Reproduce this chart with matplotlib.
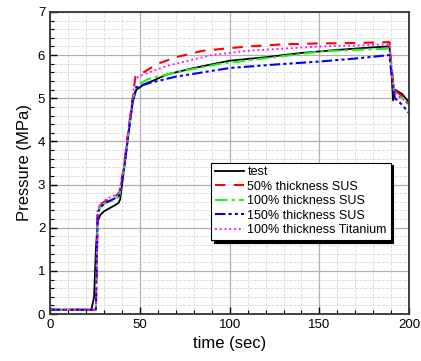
import numpy as np
import matplotlib.pyplot as plt
from matplotlib.ticker import MultipleLocator

# Data
t_test = [0, 23, 24.5, 25.5, 26.5, 28, 30, 33, 36, 38, 39, 41, 44, 46, 48, 50, 52, 57, 65, 80, 100, 120, 140, 160, 180, 189, 190, 191, 192, 196, 200]
p_test = [0.1, 0.1, 0.4, 1.5, 2.15, 2.3, 2.38, 2.45, 2.52, 2.57, 2.65, 3.3, 4.3, 4.9, 5.2, 5.25, 5.32, 5.4, 5.55, 5.7, 5.87, 5.95, 6.05, 6.12, 6.18, 6.2, 5.7, 4.95, 5.2, 5.1, 4.9]

t_sus50 = [0, 25.5, 26, 26.5, 28, 30, 33, 36, 38.5, 41, 44, 46, 47.5, 52, 60, 70, 85, 110, 130, 150, 170, 189, 190, 191.5, 196, 200]
p_sus50 = [0.1, 0.1, 1.2, 2.4, 2.52, 2.6, 2.66, 2.72, 2.8, 3.4, 4.4, 5.0, 5.5, 5.6, 5.8, 5.95, 6.1, 6.2, 6.25, 6.27, 6.28, 6.3, 5.8, 5.2, 5.05, 4.9]

t_sus100 = [0, 25.5, 26, 26.5, 28, 30, 33, 36, 38.5, 41, 44, 46, 48, 55, 70, 95, 125, 150, 170, 189, 190, 191.5, 196, 200]
p_sus100 = [0.1, 0.1, 1.2, 2.38, 2.48, 2.55, 2.6, 2.66, 2.72, 3.3, 4.3, 4.95, 5.3, 5.45, 5.6, 5.8, 5.95, 6.08, 6.12, 6.15, 5.7, 5.15, 5.0, 4.85]

t_sus150 = [0, 25.5, 26, 26.5, 28, 30, 33, 36, 38.5, 41, 44, 46, 48, 55, 70, 100, 125, 150, 170, 189, 190, 192, 196, 200]
p_sus150 = [0.1, 0.1, 1.2, 2.35, 2.47, 2.55, 2.62, 2.68, 2.74, 3.3, 4.3, 4.95, 5.25, 5.35, 5.5, 5.7, 5.78, 5.85, 5.92, 6.0, 5.6, 5.0, 4.85, 4.65]

t_ti100 = [0, 25.5, 26, 26.5, 28, 30, 33, 36, 38.5, 41, 44, 46, 47, 52, 65, 90, 110, 130, 150, 170, 189, 190, 192, 196, 200]
p_ti100 = [0.1, 0.1, 1.2, 2.45, 2.55, 2.62, 2.7, 2.75, 2.82, 3.4, 4.4, 5.0, 5.45, 5.55, 5.75, 6.0, 6.1, 6.15, 6.2, 6.22, 6.25, 5.8, 5.1, 5.0, 4.85]

plt.rcParams['font.family'] = ['Liberation Sans', 'DejaVu Sans']

fig = plt.figure(figsize=(4.21, 3.61), dpi=100)
ax = fig.add_axes([0.119, 0.130, 0.853, 0.837])

ax.plot(t_test, p_test, color='black', lw=1.3, label='test')
ax.plot(t_sus50, p_sus50, color='red', lw=1.5, dashes=(5, 4), label='50% thickness SUS')
ax.plot(t_sus100, p_sus100, color='#22ee22', lw=1.5, dashes=(6, 2, 1.5, 2), label='100% thickness SUS')
ax.plot(t_sus150, p_sus150, color='blue', lw=1.5, dashes=(5, 1.5, 1.5, 1.5, 1.5, 1.5), label='150% thickness SUS')
ax.plot(t_ti100, p_ti100, color='magenta', lw=1.3, ls=':', label='100% thickness Titanium')

ax.set_xlim(0, 200)
ax.set_ylim(0, 7)
ax.xaxis.set_major_locator(MultipleLocator(50))
ax.xaxis.set_minor_locator(MultipleLocator(10))
ax.yaxis.set_major_locator(MultipleLocator(1))
ax.yaxis.set_minor_locator(MultipleLocator(0.2))

ax.grid(which='major', color='#b0b0b0', lw=0.9)
ax.grid(which='minor', color='#d8d8d8', lw=0.6, ls='--')
ax.set_axisbelow(True)

ax.tick_params(which='both', direction='in', labelsize=9.5)
ax.tick_params(which='major', length=5, width=1)
ax.tick_params(which='minor', length=3, width=0.8)
for s in ax.spines.values():
    s.set_linewidth(1.3)
    s.set_color('#333333')

ax.set_xlabel('time (sec)', fontsize=12, labelpad=4)
ax.set_ylabel('Pressure (MPa)', fontsize=12, labelpad=4)

leg = ax.legend(loc='lower right', bbox_to_anchor=(0.948, 0.245), fontsize=9,
                handlelength=2.3, handletextpad=0.3, labelspacing=0.2,
                borderpad=0.3, borderaxespad=0, fancybox=False, framealpha=1,
                shadow={'color': 'black', 'alpha': 1})
leg.get_frame().set_edgecolor('black')
leg.get_frame().set_linewidth(0.8)

fig.savefig('out.png', dpi=100)
